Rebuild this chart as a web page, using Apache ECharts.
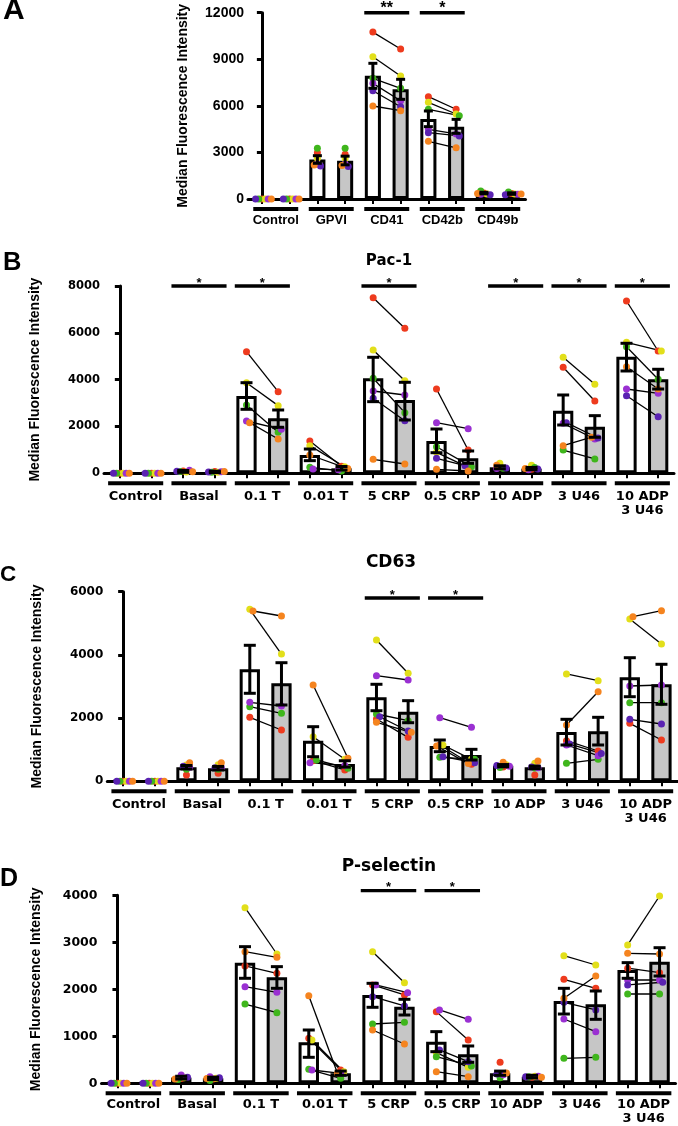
<!DOCTYPE html>
<html><head><meta charset="utf-8">
<script src="https://cdn.jsdelivr.net/npm/echarts/dist/echarts.min.js"></script>
<style>html,body{margin:0;padding:0;background:#fff}#c{width:678px;height:1126px}</style>
</head><body><div id="c"></div><script>
// ---------- donors ----------
const donorColors = ['#ee3b1e', '#e2df1a', '#3fb61c', '#9a30d2', '#5a22b2', '#f5841f']; // red, yellow, green, purple, indigo, orange

// ---------- Panel A ----------
const catsA = ['Control', 'GPVI', 'CD41', 'CD42b', 'CD49b'];
const ticksA = [0, 3000, 6000, 9000, 12000];
const meanA  = [0, 0, 2550, 2470, 7940, 7065, 5150, 4660, 380, 350];
const errHiA = [0, 0, 2790, 2760, 8740, 7710, 5670, 5130, 430, 400];
const errLoA = [0, 0, 2300, 2200, 7130, 6420, 4660, 4230, 330, 300];
const redA    = [0, 0, 2980, 2880, 10750, 9660, 6590, 5780, 380, 350];
const yellowA = [0, 0, 2620, 2600, 9165, 7920, 6230, 5475, 330, 330];
const greenA  = [0, 0, 3265, 3265, 7770, 7130, 5780, 5370, 515, 450];
const purpleA = [0, 0, 2250, 2250, 7450, 6330, 4490, 4190, 300, 300];
const indigoA = [0, 0, 2125, 2100, 6975, 5945, 4270, 4060, 280, 280];
const orangeA = [0, 0, 2190, 2150, 5990, 5690, 3715, 3300, 350, 330];
const pairedA = [0, 0, 1, 1, 0];
const sigA = [[2, '**'], [3, '*']];
const sigLevelA = 12000;

// ---------- Panel B (Pac-1) ----------
const catsB = ['Control', 'Basal', '0.1 T', '0.01 T', '5 CRP', '0.5 CRP', '10 ADP', '3 U46', '10 ADP\n3 U46'];
const ticksB = [0, 2000, 4000, 6000, 8000];
const meanB  = [0, 0, 80, 60, 3300, 2350, 780, 213, 4057, 3131, 1380, 641, 256, 197, 2675, 1991, 4981, 4015];
const errHiB = [0, 0, 120, 90, 3870, 2704, 1037, 290, 4955, 3887, 1892, 953, 320, 250, 3345, 2462, 5553, 4443];
const errLoB = [0, 0, 40, 30, 2733, 1965, 540, 140, 3060, 2277, 880, 427, 190, 150, 2063, 1538, 4370, 3600];
const redB    = [0, 0, 100, 80, 5195, 3486, 1380, 300, 7500, 6194, 3600, 995, 250, 170, 4528, 3088, 7360, 5224];
const yellowB = [0, 0, 60, 50, 3870, 2890, 1180, 280, 5267, 3955, 897, 256, 430, 340, 4955, 3801, 5596, 5224];
const greenB  = [0, 0, 80, 40, 2917, 1750, 256, 100, 4057, 2590, 1136, 284, 220, 250, 995, 611, 5408, 4015];
const purpleB = [0, 0, 130, 70, 2234, 1880, 185, 150, 3515, 3345, 2162, 1905, 200, 150, 2134, 1465, 3600, 3417];
const indigoB = [0, 0, 90, 60, null, null, null, null, 3204, 2247, 641, 325, 230, 180, 2162, 1508, 3315, 2418];
const orangeB = [0, 0, 70, 80, 2162, 1465, 782, 200, 598, 397, 171, 98, 340, 200, 1180, 1540, 4554, 3600];
const pairedB = [0, 0, 1, 1, 1, 1, 0, 1, 1];
const sigB = [[1, '*'], [2, '*'], [4, '*'], [6, '*'], [7, '*'], [8, '*']];
const sigLevelB = 8000;

// ---------- Panel C (CD63) ----------
const catsC = ['Control', 'Basal', '0.1 T', '0.01 T', '5 CRP', '0.5 CRP', '10 ADP', '3 U46', '10 ADP\n3 U46'];
const ticksC = [0, 2000, 4000, 6000];
const meanC  = [0, 0, 443, 411, 3544, 3101, 1285, 547, 2658, 2203, 1117, 832, 494, 443, 1560, 1582, 3291, 3070];
const errHiC = [0, 0, 500, 470, 4304, 3753, 1728, 650, 3070, 2551, 1307, 1012, 530, 480, 1962, 2025, 3911, 3703];
const errLoC = [0, 0, 390, 360, 2785, 2415, 778, 450, 2234, 1854, 937, 674, 460, 400, 1149, 1149, 2677, 2437];
const redC    = [0, 0, 200, 253, 2025, 1623, 652, 358, 1972, 1392, 1149, 538, 450, 200, 1285, 959, 1835, 1307];
const yellowC = [0, 0, 515, 520, 5443, 4028, 1411, 696, 4472, 3418, 1149, 696, 520, 570, 3396, 3184, 5136, 4345];
const greenC  = [0, 0, 380, 380, 2361, 2152, 674, 411, 2130, 1918, 759, 700, 440, 420, 570, 696, 2487, 2487];
const purpleC = [0, 0, 443, 440, 2500, 2383, 589, 500, 3342, 3206, 2013, 1709, 480, 430, 1149, 810, 3016, 3047];
const indigoC = [0, 0, 480, 430, null, null, null, null, 2044, 1592, 780, 589, 500, 450, 1180, 880, 1962, 1813];
const orangeC = [0, 0, 589, 589, 5389, 5231, 3047, 728, 1867, 1551, 1117, 560, 600, 642, 1782, 2836, 5209, 5399];
const pairedC = [0, 0, 1, 1, 1, 1, 0, 1, 1];
const sigC = [[4, '*'], [5, '*']];
const sigLevelC = 5800;

// ---------- Panel D (P-selectin) ----------
const catsD = ['Control', 'Basal', '0.1 T', '0.01 T', '5 CRP', '0.5 CRP', '10 ADP', '3 U46', '10 ADP\n3 U46'];
const ticksD = [0, 1000, 2000, 3000, 4000];
const meanD  = [0, 0, 120, 106, 2567, 2255, 872, 213, 1879, 1631, 886, 617, 213, 142, 1751, 1680, 2411, 2588];
const errHiD = [0, 0, 150, 130, 2907, 2482, 1134, 260, 2127, 1787, 1099, 794, 260, 170, 2021, 1964, 2567, 2885];
const errLoD = [0, 0, 90, 80, 2234, 2021, 553, 170, 1617, 1453, 673, 447, 170, 115, 1474, 1361, 2234, 2283];
const redD    = [0, 0, 100, 90, 2496, 2340, 957, 283, 2092, 1879, 1525, 921, 447, 130, 2213, 2021, 2450, 2353];
const yellowD = [0, 0, 120, 110, 3736, 2751, 921, 247, 2800, 2141, 652, 340, 200, 150, 2715, 2517, 2943, 3985];
const greenD  = [0, 0, 80, 60, 1687, 1502, 298, 106, 1262, 1298, 567, 369, 120, 140, 532, 553, 1900, 1900];
const purpleD = [0, 0, 177, 142, 2056, 1936, 283, 213, 2092, 1929, 1560, 1361, 180, 150, 1368, 1099, 2198, 2198];
const indigoD = [0, 0, 130, 120, null, null, null, null, 1843, 1645, 709, 461, 200, 140, 1723, 1560, 2092, 2150];
const orangeD = [0, 0, 90, 100, 2800, 2681, 1864, 213, 1134, 836, 248, 142, 220, 130, 1808, 2283, 2766, 2751];
const pairedD = [0, 0, 1, 1, 1, 1, 0, 1, 1];
const sigD = [[4, '*'], [5, '*']];
const sigLevelD = 4100;

// ---------- layout / style ----------
const panels = [
  { cats: catsA, ticks: ticksA, mean: meanA, hi: errHiA, lo: errLoA,
    pts: [redA, yellowA, greenA, purpleA, indigoA, orangeA], paired: pairedA, sig: sigA, sigLevel: sigLevelA,
    grid: { left: 248, top: 12.7, width: 277.5, height: 186.3 }, font: 'Liberation Sans',
    ySize: 14, gSize: 13, gMargin: 14, underFrac: 0.81, barWidth: '58%', cap: 9, dot: 7, nameGap: 58, starSize: 16 },
  { cats: catsB, ticks: ticksB, mean: meanB, hi: errHiB, lo: errLoB,
    pts: [redB, yellowB, greenB, purpleB, indigoB, orangeB], paired: pairedB, sig: sigB, sigLevel: sigLevelB,
    grid: { left: 104, top: 286, width: 570, height: 187.3 }, font: 'DejaVu Sans',
    ySize: 11.5, gSize: 13, gMargin: 16, underFrac: 0.87, barWidth: '64%', cap: 12, dot: 7, nameGap: 62, starSize: 13 },
  { cats: catsC, ticks: ticksC, mean: meanC, hi: errHiC, lo: errLoC,
    pts: [redC, yellowC, greenC, purpleC, indigoC, orangeC], paired: pairedC, sig: sigC, sigLevel: sigLevelC,
    grid: { left: 107.3, top: 591.7, width: 570, height: 189.6 }, font: 'DejaVu Sans',
    ySize: 12, gSize: 13, gMargin: 16.5, underFrac: 0.87, barWidth: '64%', cap: 12, dot: 7, nameGap: 63, starSize: 13 },
  { cats: catsD, ticks: ticksD, mean: meanD, hi: errHiD, lo: errLoD,
    pts: [redD, yellowD, greenD, purpleD, indigoD, orangeD], paired: pairedD, sig: sigD, sigLevel: sigLevelD,
    grid: { left: 101.5, top: 895.3, width: 574, height: 188 }, font: 'DejaVu Sans',
    ySize: 12.5, gSize: 13, gMargin: 14.5, underFrac: 0.87, barWidth: '64%', cap: 12, dot: 7, nameGap: 58, starSize: 13 }
];

const GRAY = '#c6c6c6';

function swarm(vals, ppu, size) {
  const step = size * 0.45;
  const placed = [], offs = [];
  vals.forEach(v => {
    if (v === null || v === undefined) { offs.push(null); return; }
    const y = v * ppu;
    let chosen = 0;
    for (let s = 0; s < 30; s++) {
      const k = s === 0 ? 0 : (s % 2 ? Math.ceil(s / 2) : -Math.ceil(s / 2));
      const cand = k * step;
      if (placed.every(p => Math.hypot(p.x - cand, p.y - y) >= step - 0.01)) { chosen = cand; break; }
    }
    placed.push({ x: chosen, y }); offs.push(chosen);
  });
  return offs;
}

const option = { animation: false, backgroundColor: '#fff', grid: [], xAxis: [], yAxis: [], series: [], graphic: [] };

panels.forEach((p, pi) => {
  const N = p.cats.length, M = 2 * N;
  const maxV = p.ticks[p.ticks.length - 1];
  const interval = p.ticks[1] - p.ticks[0];
  const slotPx = p.grid.width / M, ppu = p.grid.height / maxV;
  option.grid.push(Object.assign({ containLabel: false, outerBoundsMode: 'none' }, p.grid));
  const xb = option.xAxis.length;
  const barIds = [];
  p.cats.forEach((c, g) => { barIds.push(c + ' a'); barIds.push(c + ' b'); });
  option.xAxis.push({
    gridIndex: pi, type: 'category', data: barIds, boundaryGap: true, position: 'bottom',
    axisLine: { show: true, onZero: false, lineStyle: { color: '#000', width: 3 } },
    axisTick: { show: true, alignWithLabel: true, interval: 0, length: 5, lineStyle: { color: '#000', width: 2 } },
    axisLabel: { show: false }, splitLine: { show: false }
  });
  option.xAxis.push({
    gridIndex: pi, type: 'category', data: p.cats, boundaryGap: true, position: 'bottom', offset: 0,
    axisLine: { show: false }, axisTick: { show: false }, splitLine: { show: false },
    axisLabel: { interval: 0, color: '#000', fontFamily: p.font, fontWeight: 'bold', fontSize: p.gSize, lineHeight: 14, margin: p.gMargin }
  });
  option.xAxis.push({ gridIndex: pi, type: 'value', min: -0.5, max: M - 0.5, show: false, position: 'top' });
  option.yAxis.push({
    gridIndex: pi, type: 'value', min: p.ticks[0], max: maxV, interval: interval,
    name: 'Median Fluorescence Intensity', nameLocation: 'middle', nameGap: p.nameGap, nameRotate: 90,
    nameTextStyle: { fontFamily: 'Liberation Sans', fontWeight: 'bold', fontSize: 14, color: '#000' },
    axisLine: { show: true, lineStyle: { color: '#000', width: 3 } },
    axisTick: { show: true, length: 5, lineStyle: { color: '#000', width: 3 } },
    splitLine: { show: false },
    axisLabel: { color: '#000', fontFamily: p.font, fontWeight: 'bold', fontSize: p.ySize, margin: 4,
                 formatter: v => String(v) }
  });
  const xv = xb + 2;

  // bars
  option.series.push({
    type: 'bar', xAxisIndex: xb, yAxisIndex: pi, barWidth: p.barWidth, z: 2,
    data: p.mean.map((v, i) => ({ value: v, itemStyle: { color: i % 2 ? GRAY : '#fff' } })),
    itemStyle: { borderColor: '#000', borderWidth: 3 }
  });

  // jittered x positions
  const xs = p.pts.map(() => new Array(M).fill(null));
  for (let j = 0; j < M; j++) {
    const offs = swarm(p.pts.map(a => a[j]), ppu, p.dot);
    offs.forEach((o, d) => { if (o !== null) xs[d][j] = j + o / slotPx; });
  }

  // connecting lines
  const segs = [];
  p.pts.forEach((arr, d) => {
    for (let g = 0; g < N; g++) {
      if (!p.paired[g]) continue;
      const a = arr[2 * g], b = arr[2 * g + 1];
      if (a === null || b === null) continue;
      segs.push([xs[d][2 * g], a, xs[d][2 * g + 1], b]);
    }
  });
  option.series.push({
    type: 'custom', xAxisIndex: xv, yAxisIndex: pi, z: 3, clip: false,
    encode: { x: [0, 2], y: [1, 3] }, data: segs,
    renderItem: (params, api) => {
      const a = api.coord([api.value(0), api.value(1)]);
      const b = api.coord([api.value(2), api.value(3)]);
      return { type: 'line', shape: { x1: a[0], y1: a[1], x2: b[0], y2: b[1] }, style: { stroke: '#000', lineWidth: 1.3 } };
    }
  });

  // points
  p.pts.forEach((arr, d) => {
    const data = [];
    arr.forEach((v, j) => { if (v !== null) data.push([xs[d][j], v]); });
    option.series.push({
      type: 'scatter', xAxisIndex: xv, yAxisIndex: pi, z: 4, symbolSize: p.dot,
      itemStyle: { color: donorColors[d], opacity: 1 }, data: data
    });
  });

  // error bars
  option.series.push({
    type: 'custom', xAxisIndex: xv, yAxisIndex: pi, z: 5, clip: false,
    encode: { x: 0, y: [1, 2] },
    data: p.mean.map((v, j) => [j, p.lo[j], p.hi[j]]),
    renderItem: (params, api) => {
      const x = api.value(0), lo = api.value(1), hi = api.value(2);
      if (hi <= lo) return { type: 'group', children: [] };
      const t = api.coord([x, hi]), b = api.coord([x, lo]);
      const hw = p.cap / 2;
      const st = { stroke: '#000', lineWidth: 3 };
      return { type: 'group', children: [
        { type: 'line', shape: { x1: t[0], y1: t[1], x2: b[0], y2: b[1] }, style: st },
        { type: 'line', shape: { x1: t[0] - hw, y1: t[1], x2: t[0] + hw, y2: t[1] }, style: st },
        { type: 'line', shape: { x1: b[0] - hw, y1: b[1], x2: b[0] + hw, y2: b[1] }, style: st }
      ] };
    }
  });

  // group underlines
  option.series.push({
    type: 'custom', xAxisIndex: xv, yAxisIndex: pi, z: 5, clip: false,
    encode: { x: 0, y: 1 },
    data: p.cats.map((c, g) => [2 * g + 0.5, 0]),
    renderItem: (params, api) => {
      const c = api.coord([api.value(0), 0]);
      const gw = api.size([2, 0])[0] * p.underFrac;
      return { type: 'rect', shape: { x: c[0] - gw / 2, y: c[1] + 8, width: gw, height: 4 }, style: { fill: '#000' } };
    }
  });

  // significance bars
  option.series.push({
    type: 'custom', xAxisIndex: xv, yAxisIndex: pi, z: 5, clip: false,
    encode: { x: 0, y: 1 },
    data: p.sig.map(s => [2 * s[0] + 0.5, p.sigLevel]),
    renderItem: (params, api) => {
      const c = api.coord([api.value(0), api.value(1)]);
      const gw = api.size([2, 0])[0] * p.underFrac;
      const txt = p.sig[params.dataIndex][1];
      return { type: 'group', children: [
        { type: 'rect', shape: { x: c[0] - gw / 2, y: c[1] - 1.7, width: gw, height: 3.4 }, style: { fill: '#000' } },
        { type: 'text', x: c[0], y: c[1] - (pi === 0 ? 4 : 3),
          style: { text: txt, font: 'bold ' + p.starSize + 'px "Liberation Sans"', fill: '#000',
                   align: 'center', verticalAlign: 'middle', textAlign: 'center', textVerticalAlign: 'middle' } }
      ] };
    }
  });
});

// panel letters and titles
const letters = [['A', 3, 11, 30], ['B', 3, 262.5, 25.5], ['C', 0, 575, 22.5], ['D', 0, 879, 25]];
letters.forEach(l => option.graphic.push({
  type: 'text', x: l[1], y: l[2], z: 10,
  style: { text: l[0], font: 'bold ' + l[3] + 'px "Liberation Sans"', fill: '#000', align: 'left', verticalAlign: 'middle', textAlign: 'left', textVerticalAlign: 'middle' }
}));
const titles = [['Pac-1', 389, 261, 15], ['CD63', 391, 563, 17], ['P-selectin', 389, 867, 17]];
titles.forEach(t => option.graphic.push({
  type: 'text', x: t[1], y: t[2], z: 10,
  style: { text: t[0], font: 'bold ' + t[3] + 'px "DejaVu Sans"', fill: '#000', align: 'center', verticalAlign: 'middle', textAlign: 'center', textVerticalAlign: 'middle' }
}));

const chart = echarts.init(document.getElementById('c'), null, { renderer: 'canvas' });
chart.setOption(option);
</script></body></html>
